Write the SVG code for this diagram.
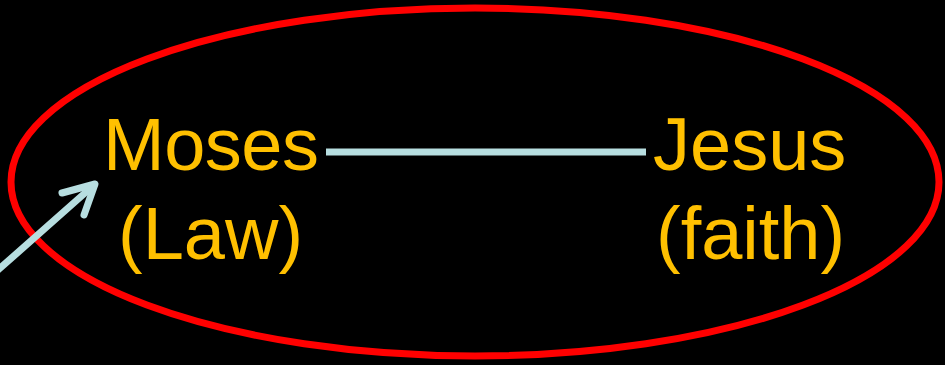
<svg xmlns="http://www.w3.org/2000/svg" width="945" height="365" viewBox="0 0 945 365">
<style>
.t{font-family:"Liberation Sans",Arial,sans-serif;font-size:74px;fill:#FFC000}
.c{stroke:#B7DEE0;stroke-width:7;fill:none}
</style>
<rect width="945" height="365" fill="#000"/>
<g id="ellipse"><ellipse cx="475" cy="182" rx="464" ry="174" fill="none" stroke="#FF0000" stroke-width="7"/></g>
<g id="moses"><text class="t" x="103" y="170" textLength="216">Moses</text><text class="t" x="118" y="259">(Law)</text></g>
<g id="jesus"><text class="t" x="653" y="170">Jesus</text><text class="t" x="656" y="259">(faith)</text></g>
<g id="connectors">
<line class="c" x1="326" y1="152" x2="646" y2="152"/>
<line class="c" x1="-2" y1="270" x2="94" y2="185" stroke-linecap="round"/>
<polyline class="c" points="62,193 95,184 84,215" stroke-linecap="round" stroke-linejoin="round"/>
</g>
</svg>
